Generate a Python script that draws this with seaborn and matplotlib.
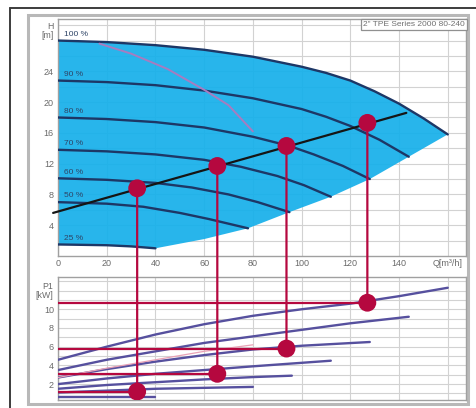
import numpy as np
import pandas as pd
import seaborn as sns
import matplotlib.pyplot as plt
from matplotlib.patches import ConnectionPatch, Rectangle
from matplotlib.lines import Line2D

# ---- pump curves H(Q) at each speed
q_100 = [0, 20, 40, 60, 80, 100, 110, 120, 130, 140, 150, 160]
h_100 = [28.0, 27.8, 27.4, 26.8, 25.9, 24.6, 23.8, 22.8, 21.4, 19.8, 17.9, 15.8]
q_90 = [0, 20, 40, 60, 80, 100, 110, 120, 132, 144]
h_90 = [22.8, 22.6, 22.2, 21.5, 20.5, 19.1, 18.1, 16.9, 15.1, 12.9]
q_80 = [0, 20, 40, 60, 80, 95, 105, 117, 128]
h_80 = [18.0, 17.8, 17.4, 16.7, 15.5, 14.3, 13.2, 11.7, 10.0]
q_70 = [0, 20, 40, 60, 75, 90, 101, 112]
h_70 = [13.8, 13.6, 13.2, 12.5, 11.6, 10.4, 9.2, 7.7]
q_60 = [0, 20, 40, 55, 70, 82, 95]
h_60 = [10.1, 9.9, 9.5, 8.9, 8.0, 7.0, 5.7]
q_50 = [0, 20, 35, 50, 62, 78]
h_50 = [7.0, 6.8, 6.4, 5.6, 4.8, 3.6]
q_25 = [0, 20, 30, 40]
h_25 = [1.5, 1.4, 1.25, 1.0]
speed_labels = ['100 %', '90 %', '80 %', '70 %', '60 %', '50 %', '25 %']

# right hand limit of the operating area
q_edge = [160, 144, 128, 112, 95, 78, 60, 40]
h_edge = [15.8, 12.9, 10.0, 7.7, 5.7, 3.6, 2.2, 1.0]

# thin pink/purple curve in the H chart
q_pink = [17, 30, 45, 60, 70, 80]
h_pink = [27.6, 26.3, 24.3, 21.6, 19.6, 16.2]

# system curve (black)
q_sys = [-2, 143]
h_sys = [5.6, 18.6]

# power curves P1(Q)
q_pa = [0, 20, 40, 60, 80, 100, 120, 140, 160]
p_pa = [4.6, 6.0, 7.3, 8.4, 9.3, 10.0, 10.6, 11.4, 12.3]
q_pb = [0, 20, 40, 60, 80, 100, 120, 144]
p_pb = [3.5, 4.6, 5.5, 6.4, 7.1, 7.8, 8.5, 9.2]
q_pc = [0, 20, 40, 60, 80, 100, 128]
p_pc = [2.7, 3.6, 4.4, 5.1, 5.7, 6.1, 6.5]
q_pd = [0, 20, 40, 60, 80, 112]
p_pd = [2.0, 2.6, 3.1, 3.5, 3.9, 4.5]
q_pe = [0, 20, 40, 60, 80, 96]
p_pe = [1.5, 1.9, 2.2, 2.5, 2.75, 2.9]
q_pf = [0, 20, 40, 60, 80]
p_pf = [1.1, 1.3, 1.5, 1.6, 1.7]
q_pg = [0, 20, 40]
p_pg = [0.6, 0.6, 0.6]
q_ppink = [0, 20, 40, 60, 80]
p_ppink = [2.7, 3.7, 4.6, 5.5, 6.2]

# duty points
q_duty = [32.5, 65.4, 93.8, 127]
h_duty = [8.8, 11.7, 14.3, 17.3]
p_duty = [1.2, 3.1, 5.8, 10.7]

title_box = '2" TPE Series 2000 80-240'

sns.set_style('white')
plt.rcParams['font.family'] = ['Liberation Sans', 'DejaVu Sans']

W, HP = 477, 408
def fx(px):
    return px / W
def fy(py):
    return 1 - py / HP

fig = plt.figure(figsize=(W / 100, HP / 100), dpi=100)

# outer frame (top + left) and grey panel
fig.add_artist(Line2D([fx(10), fx(477)], [fy(8), fy(8)], color='#3c3c3c', lw=1.4))
fig.add_artist(Line2D([fx(10), fx(10)], [fy(8), fy(408)], color='#3c3c3c', lw=1.4))
fig.add_artist(Rectangle((fx(28), fy(404)), fx(468) - fx(28), fy(15) - fy(404),
                         facecolor='white', edgecolor='#b8b8b8', lw=2.2, zorder=-1))

ax1 = fig.add_axes([fx(58), fy(256), fx(466) - fx(58), fy(19) - fy(256)])
ax2 = fig.add_axes([fx(58), fy(400), fx(466) - fx(58), fy(277) - fy(400)])

blue = '#17b0ea'
navy = '#1d3766'
red = '#b5083f'
purple = '#56509e'
tick_c = '#6a6a6a'

# ---- H chart
poly_q = q_100 + q_edge[1:] + q_25[::-1][1:]
poly_h = h_100 + h_edge[1:] + h_25[::-1][1:]
ax1.fill(poly_q, poly_h, color=blue, alpha=0.93, lw=0, zorder=1)

curves = [(q_100, h_100), (q_90, h_90), (q_80, h_80), (q_70, h_70),
          (q_60, h_60), (q_50, h_50), (q_25, h_25)]
for (q, h), lab in zip(curves, speed_labels):
    sns.lineplot(x=q, y=h, ax=ax1, color=navy, lw=1.7, sort=False, zorder=3)
    ax1.text(2.5, h[0] + 0.35, lab, fontsize=6.0, color='#2e4466', ha='left',
             va='bottom', zorder=4)

sns.lineplot(x=q_pink, y=h_pink, ax=ax1, color='#a77cc0', lw=1.4, sort=False, zorder=3)
sns.lineplot(x=q_sys, y=h_sys, ax=ax1, color='#151515', lw=1.6, sort=False,
             zorder=4, clip_on=False)
sns.scatterplot(x=q_duty, y=h_duty, ax=ax1, color=red, s=165, edgecolor='none', zorder=6)

ax1.set_xlim(0, 167.5)
ax1.set_ylim(0, 30.8)
ax1.set_xticks(range(0, 161, 20))
ax1.set_xticklabels([str(v) for v in range(0, 141, 20)] + ['Q[m\u00b3/h]'])
yt = list(range(2, 31, 2))
ax1.set_yticks(yt)
ax1.set_yticklabels([str(v) if v % 4 == 0 and v <= 24 else '' for v in yt])
ax1.text(-1.8, 29.3, 'H\n[m]', ha='right', va='center', fontsize=6.3,
         color=tick_c, linespacing=1.0)
ax1.text(0.998, 0.993, title_box, transform=ax1.transAxes, ha='right', va='top',
         fontsize=6.0, color='#707070', zorder=7,
         bbox=dict(facecolor='white', edgecolor='#909090', lw=0.9, pad=1.5))

# ---- P1 chart
pcurves = [(q_pa, p_pa), (q_pb, p_pb), (q_pc, p_pc), (q_pd, p_pd),
           (q_pe, p_pe), (q_pf, p_pf), (q_pg, p_pg)]
for q, p in pcurves:
    sns.lineplot(x=q, y=p, ax=ax2, color=purple, lw=1.7, sort=False, zorder=3)
sns.lineplot(x=q_ppink, y=p_ppink, ax=ax2, color='#e9a2b6', lw=0.9, sort=False, zorder=3)

for q, p in zip(q_duty, p_duty):
    ax2.plot([0, q], [p, p], color=red, lw=1.6, zorder=5, solid_capstyle='butt')
sns.scatterplot(x=q_duty, y=p_duty, ax=ax2, color=red, s=165, edgecolor='none', zorder=6)

ax2.set_xlim(0, 167.5)
ax2.set_ylim(0.3, 13.45)
ax2.set_xticks(range(0, 161, 20))
ax2.set_xticklabels([])
pt = list(range(1, 14))
ax2.set_yticks(pt)
ax2.set_yticklabels([str(v) if v % 2 == 0 and v <= 10 else '' for v in pt])
ax2.text(-1.8, 11.9, 'P1\n[kW]', ha='right', va='center', fontsize=6.3,
         color=tick_c, linespacing=1.0)

for ax in (ax1, ax2):
    ax.set_xlabel('')
    ax.set_ylabel('')
    ax.set_axisbelow(True)
    ax.grid(True, color='#d2d2d2', lw=0.8)
    ax.tick_params(length=0, labelsize=6.5, colors=tick_c)
    ax.tick_params(axis='x', pad=2)
    ax.tick_params(axis='y', pad=3)
    for s in ax.spines.values():
        s.set_color('#a0a0a0')
        s.set_linewidth(1.0)

# vertical red drop lines from H chart to P1 chart
for q, h, p in zip(q_duty, h_duty, p_duty):
    con = ConnectionPatch(xyA=(q, h), coordsA=ax1.transData,
                          xyB=(q, p), coordsB=ax2.transData,
                          color=red, lw=1.6, zorder=5)
    fig.add_artist(con)

fig.savefig('out.png', dpi=100)
